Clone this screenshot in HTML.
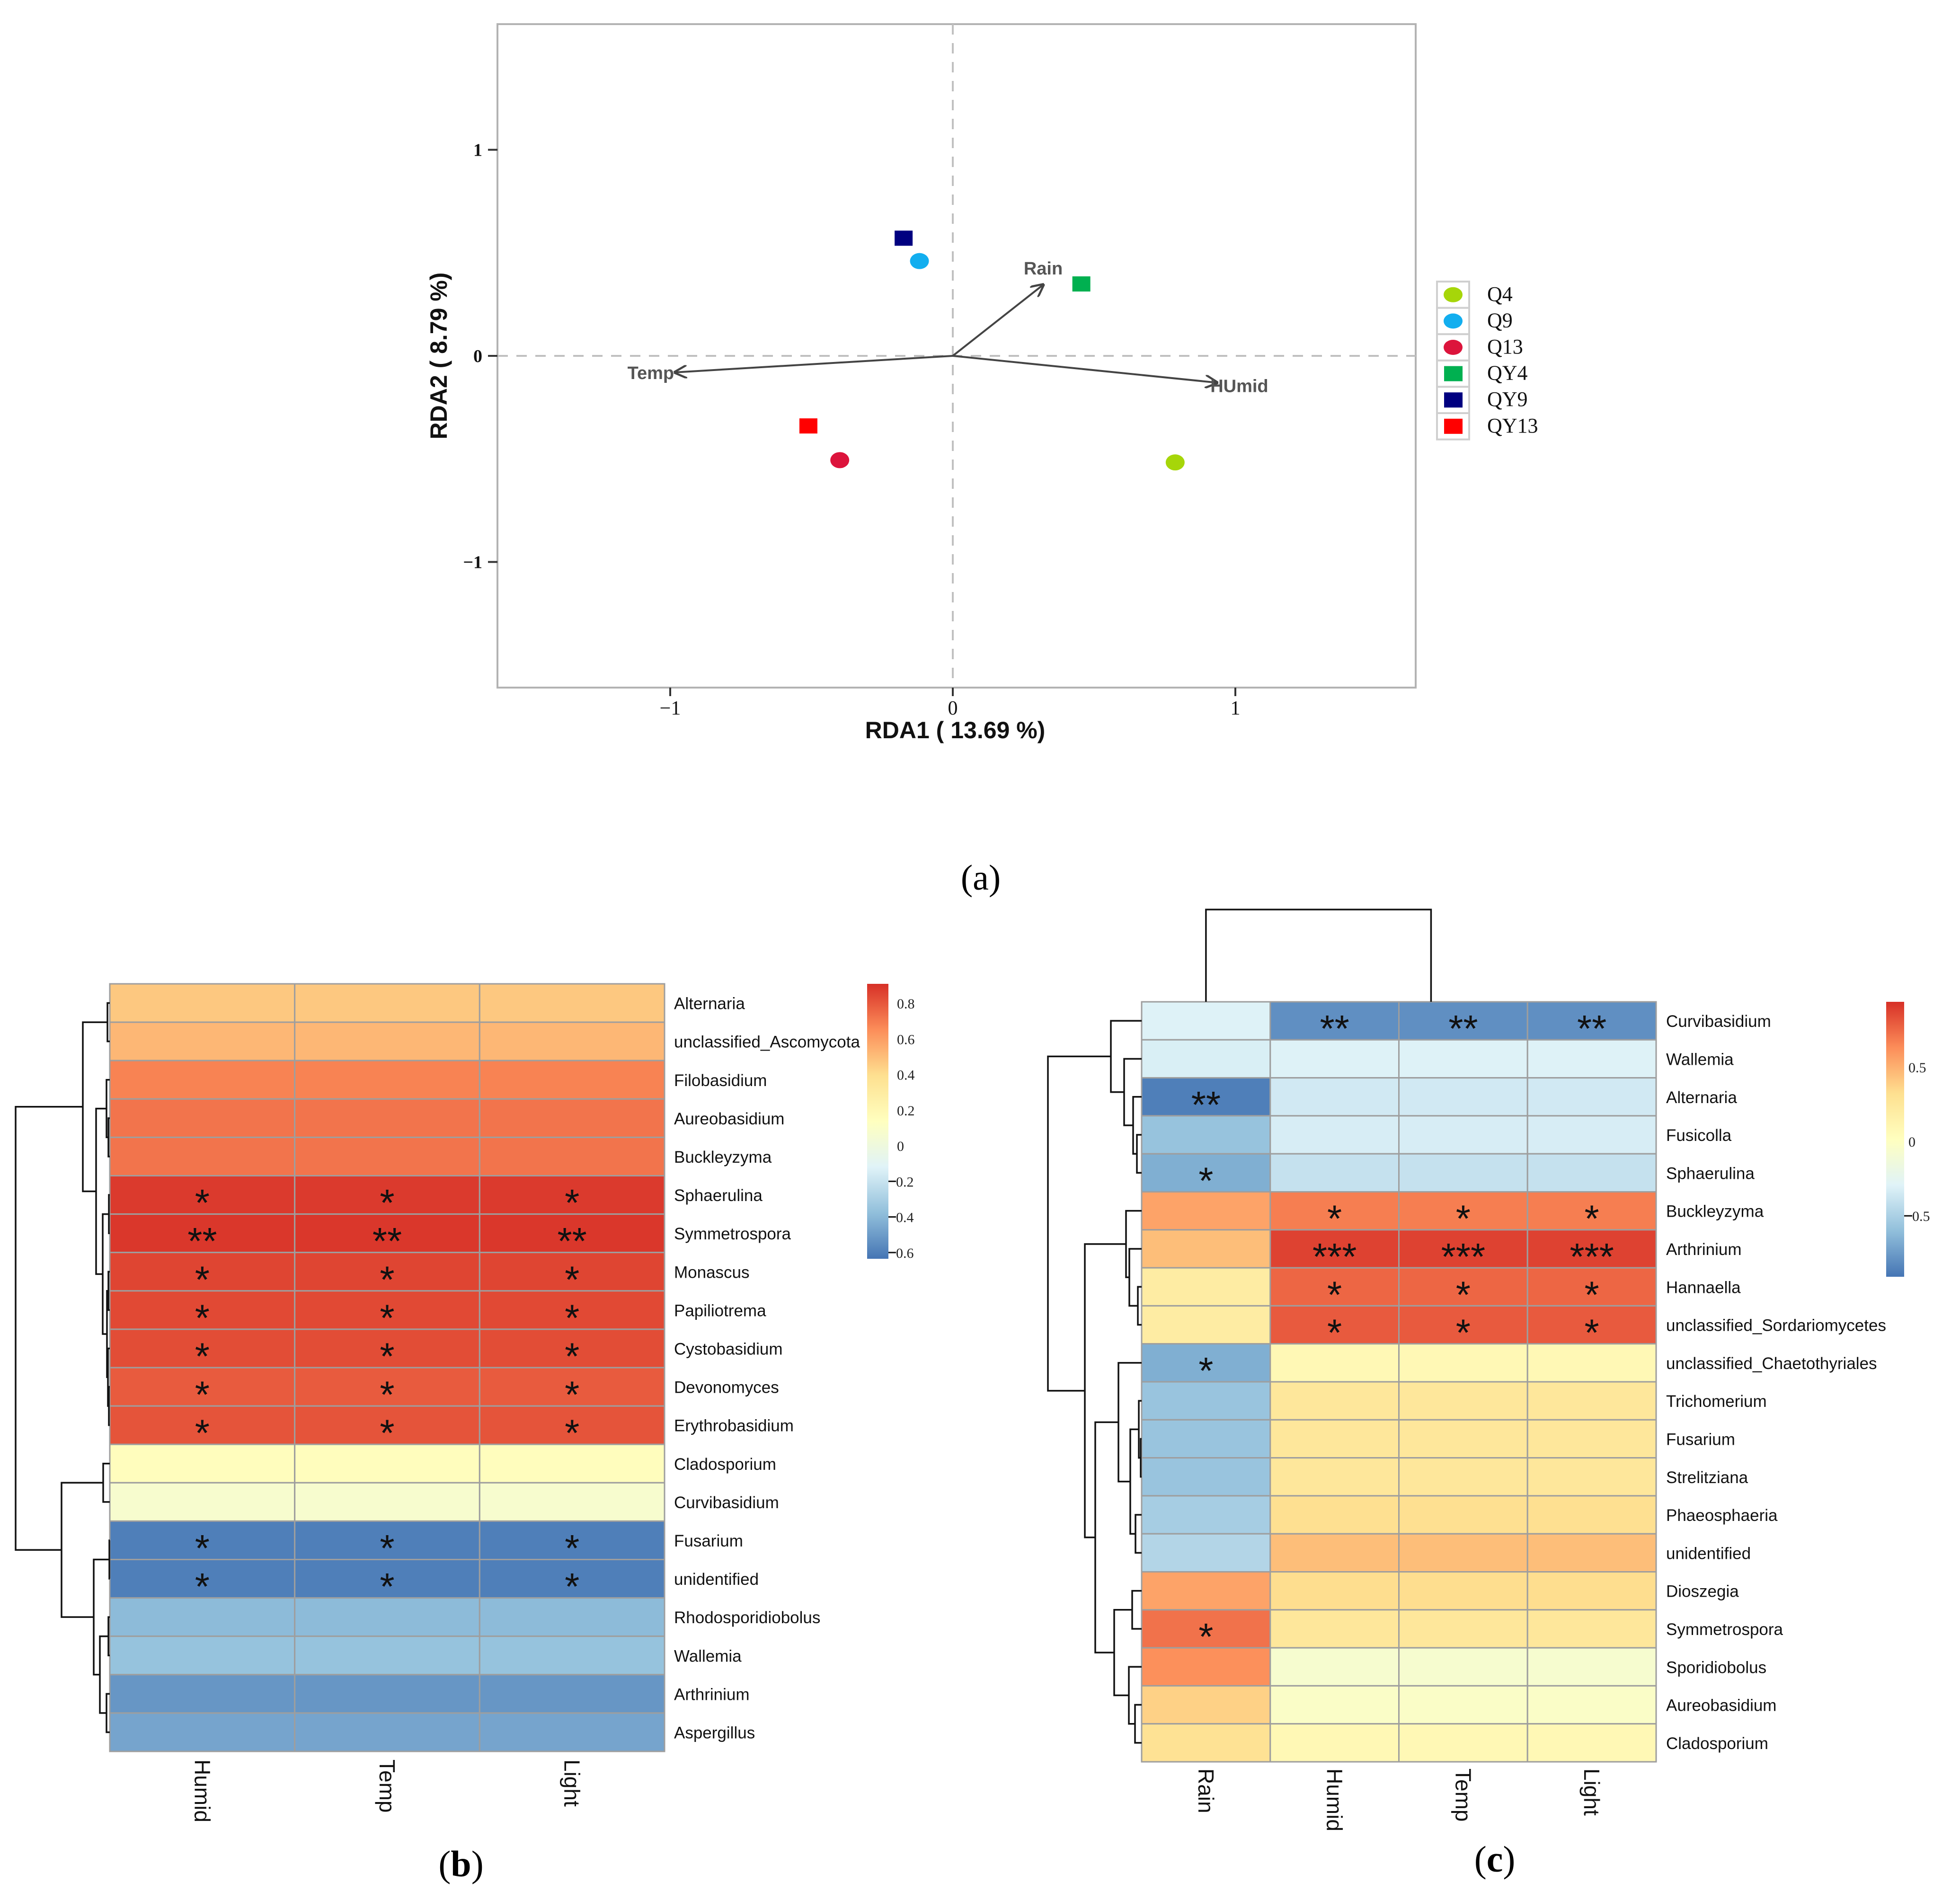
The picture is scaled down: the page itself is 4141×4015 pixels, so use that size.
<!DOCTYPE html>
<html><head><meta charset="utf-8"><title>RDA and correlation heatmaps</title>
<style>
html,body{margin:0;padding:0;background:#fff;}
svg{display:block;}
</style></head>
<body>
<svg id="fig" xmlns="http://www.w3.org/2000/svg" width="4141" height="4015" viewBox="0 0 4141 4015">
<rect width="4141" height="4015" fill="#fff"/>
<defs>
<linearGradient id="gradB" x1="0" y1="1" x2="0" y2="0">
<stop offset="0" stop-color="#4575B4"/><stop offset="0.1667" stop-color="#91BFDB"/><stop offset="0.3333" stop-color="#E0F3F8"/><stop offset="0.5" stop-color="#FFFFBF"/><stop offset="0.6667" stop-color="#FEE090"/><stop offset="0.8333" stop-color="#FC8D59"/><stop offset="1" stop-color="#D73027"/>
</linearGradient>
<marker id="arr" viewBox="0 0 10 10" refX="9" refY="5" markerWidth="7" markerHeight="7" orient="auto"><path d="M0,0 L10,5 L0,10" fill="none" stroke="#444" stroke-width="1.6"/></marker>
</defs>
<g id="panelA"></g>
<g id="panelB"></g>
<g id="panelC"></g>
</svg>
<script>
// ---------- Panel (a) data ----------
const sampleNames = ["Q4","Q9","Q13","QY4","QY9","QY13"];
const sampleX = [0.787,-0.118,-0.40,0.455,-0.174,-0.511];
const sampleY = [-0.517,0.46,-0.506,0.349,0.571,-0.34];
const sampleColors = ["#A6D609","#12AEEF","#DC143C","#00B050","#000080","#FF0000"];
const sampleShapes = ["circle","circle","circle","square","square","square"];
const envNames = ["Rain","Temp","HUmid"];
const envX = [0.32,-0.983,0.935];
const envY = [0.345,-0.08,-0.13];
const xTicks = [-1,0,1];
const yTicks = [-1,0,1];

// ---------- Panel (b) data ----------
const rowsB = ["Alternaria","unclassified_Ascomycota","Filobasidium","Aureobasidium","Buckleyzyma","Sphaerulina","Symmetrospora","Monascus","Papiliotrema","Cystobasidium","Devonomyces","Erythrobasidium","Cladosporium","Curvibasidium","Fusarium","unidentified","Rhodosporidiobolus","Wallemia","Arthrinium","Aspergillus"];
const colsB = ["Humid","Temp","Light"];
const valsB = [0.47,0.52,0.68,0.72,0.72,0.88,0.89,0.85,0.84,0.83,0.79,0.81,0.15,0.07,-0.6,-0.6,-0.39,-0.36,-0.52,-0.47];
const starsB = ["","","","","","*","**","*","*","*","*","*","","","*","*","","","",""];
const ticksB = [0.8,0.6,0.4,0.2,0,-0.2,-0.4,-0.6];
const tickLabelsB = ["0.8","0.6","0.4","0.2","0","\u22120.2","\u22120.4","\u22120.6"];

// ---------- Panel (c) data ----------
const rowsC = ["Curvibasidium","Wallemia","Alternaria","Fusicolla","Sphaerulina","Buckleyzyma","Arthrinium","Hannaella","unclassified_Sordariomycetes","unclassified_Chaetothyriales","Trichomerium","Fusarium","Strelitziana","Phaeosphaeria","unidentified","Dioszegia","Symmetrospora","Sporidiobolus","Aureobasidium","Cladosporium"];
const colsC = ["Rain","Humid","Temp","Light"];
const rainC = [-0.3,-0.32,-0.87,-0.58,-0.67,0.55,0.45,0.2,0.2,-0.67,-0.57,-0.57,-0.57,-0.52,-0.47,0.55,0.72,0.62,0.38,0.3];
const envC = [-0.8,-0.3,-0.35,-0.33,-0.4,0.68,0.88,0.76,0.8,0.08,0.25,0.25,0.25,0.32,0.45,0.33,0.25,-0.07,-0.03,0.08];
const rainStars = ["","","**","","*","","","","","*","","","","","","","*","","",""];
const envStars = ["**","","","","","*","***","*","*","","","","","","","","","","",""];
const ticksC = [0.5,0,-0.5];
const tickLabelsC = ["0.5","0","\u22120.5"];

const NS="http://www.w3.org/2000/svg";
function mk(parent,tag,attrs,text){const e=document.createElementNS(NS,tag);for(const k in attrs)e.setAttribute(k,attrs[k]);if(text!==undefined)e.textContent=text;parent.appendChild(e);return e;}
const pal=["#4575B4","#91BFDB","#E0F3F8","#FFFFBF","#FEE090","#FC8D59","#D73027"];
function hex(c){return [parseInt(c.slice(1,3),16),parseInt(c.slice(3,5),16),parseInt(c.slice(5,7),16)];}
function colorScale(v,lo,hi){let t=(v-lo)/(hi-lo);t=Math.max(0,Math.min(1,t));const p=t*6;const i=Math.min(5,Math.floor(p));const f=p-i;const a=hex(pal[i]),b=hex(pal[i+1]);return "rgb("+a.map((x,j)=>Math.round(x+(b[j]-x)*f)).join(",")+")";}

// ===== Panel A =====
(function(){
const g=document.getElementById("panelA");
const L=1051,R=2991,T=51,B=1453;
const sx=v=>2013+v*597, sy=v=>752-v*435.5;
const box=mk(g,"rect",{x:L,y:T,width:R-L,height:B-T,fill:"none",stroke:"#b3b3b3","stroke-width":4});


const vz=mk(g,"line",{x1:sx(0),y1:T,x2:sx(0),y2:B,stroke:"#c0c0c0","stroke-width":4,"stroke-dasharray":"22 18"});


const hz=mk(g,"line",{x1:L,y1:sy(0),x2:R,y2:sy(0),stroke:"#c0c0c0","stroke-width":4,"stroke-dasharray":"22 18"});


xTicks.forEach(v=>{
  const t=mk(g,"line",{x1:sx(v),y1:B,x2:sx(v),y2:B+18,stroke:"#333","stroke-width":4});
  
  
  const l=mk(g,"text",{x:sx(v),y:1510,"text-anchor":"middle","font-family":"Liberation Serif, serif","font-size":42,fill:"#111"},v<0?"\u2212"+Math.abs(v):String(v));
  
  
});
yTicks.forEach(v=>{
  const t=mk(g,"line",{x1:L-20,y1:sy(v),x2:L,y2:sy(v),stroke:"#333","stroke-width":4});
  
  
  const l=mk(g,"text",{x:L-32,y:sy(v)+13,"text-anchor":"end","font-family":"Liberation Serif, serif","font-weight":"bold","font-size":38,fill:"#111"},v<0?"\u2212"+Math.abs(v):String(v));
  
  
});
const xt=mk(g,"text",{x:2018,y:1560,"text-anchor":"middle","font-family":"Liberation Sans, sans-serif","font-weight":"bold","font-size":50,fill:"#111"},"RDA1 ( 13.69 %)");


const yt=mk(g,"text",{x:0,y:0,"text-anchor":"middle","font-family":"Liberation Sans, sans-serif","font-weight":"bold","font-size":50,fill:"#111",transform:"translate(944,752) rotate(-90)"},"RDA2 ( 8.79 %)");


envNames.forEach((n,i)=>{
  const a=mk(g,"line",{x1:sx(0),y1:sy(0),x2:sx(envX[i]),y2:sy(envY[i]),stroke:"#444","stroke-width":4,"marker-end":"url(#arr)"});
  
  
  let tx=sx(envX[i]),ty=sy(envY[i]),anc="middle";
  if(n==="Rain"){ty-=22;}
  if(n==="Temp"){tx-=2;ty+=14;anc="end";}
  if(n==="HUmid"){tx-=14;ty+=20;anc="start";}
  const l=mk(g,"text",{x:tx,y:ty,"text-anchor":anc,"font-family":"Liberation Sans, sans-serif","font-weight":"bold","font-size":38,fill:"#555"},n);
  
  
});
sampleNames.forEach((n,i)=>{
  let m;
  if(sampleShapes[i]==="circle") m=mk(g,"ellipse",{cx:sx(sampleX[i]),cy:sy(sampleY[i]),rx:20,ry:17,fill:sampleColors[i]});
  else m=mk(g,"rect",{x:sx(sampleX[i])-19,y:sy(sampleY[i])-16,width:38,height:32,fill:sampleColors[i]});
  
  
});
const lg=mk(g,"g",{});


const ly0=595,lh=55.6;
sampleNames.forEach((n,i)=>{
  const cy=ly0+lh*i+lh/2;
  const cell=mk(lg,"rect",{x:3036,y:ly0+lh*i,width:68,height:lh,fill:"#fff",stroke:"#cfcfcf","stroke-width":4});
  
  
  let m;
  if(sampleShapes[i]==="circle") m=mk(lg,"ellipse",{cx:3070,cy:cy,rx:20,ry:16,fill:sampleColors[i]});
  else m=mk(lg,"rect",{x:3051,y:cy-16,width:39,height:32,fill:sampleColors[i]});
  
  
  const t=mk(lg,"text",{x:3142,y:cy+13,"font-family":"Liberation Serif, serif","font-size":44,fill:"#111"},n);
  
  
});
const pa=mk(g,"text",{x:2072,y:1880,"text-anchor":"middle","font-family":"Liberation Serif, serif","font-size":76,fill:"#000"},"(a)");


})();

function drawTree(g,node,rowY,leafX,name){
  if(typeof node==="number") return {y:rowY(node),x:leafX};
  const a=drawTree(g,node.c[0],rowY,leafX,name), b=drawTree(g,node.c[1],rowY,leafX,name);
  const h=node.h;
  const p=mk(g,"path",{d:`M${a.x},${a.y}H${h}V${b.y}H${b.x}`,fill:"none",stroke:"#111","stroke-width":3.5});
  
  
  return {y:(a.y+b.y)/2,x:h};
}

// ===== Panel B =====
(function(){
const g=document.getElementById("panelB");
const L=232,R=1404,T=2079,B=3701;
const rh=(B-T)/rowsB.length, cw=(R-L)/colsB.length;
const lo=-0.635,hi=0.909;
rowsB.forEach((r,i)=>{
  colsB.forEach((c,j)=>{
    const cell=mk(g,"rect",{x:L+j*cw,y:T+i*rh,width:cw,height:rh,fill:colorScale(valsB[i],lo,hi),stroke:"#9e9e9e","stroke-width":3});
    
    
    if(starsB[i]){
      const s=mk(g,"text",{x:L+j*cw+cw/2,y:T+i*rh+rh/2+44,"text-anchor":"middle","font-family":"Liberation Sans, sans-serif","font-size":80,fill:"#111"},starsB[i]);
      
      
    }
  });
  const t=mk(g,"text",{x:1424,y:T+i*rh+rh/2+13,"font-family":"Liberation Sans, sans-serif","font-size":35,fill:"#111"},r);
  
  
});
colsB.forEach((c,j)=>{
  const x=L+j*cw+cw/2;
  const t=mk(g,"text",{x:0,y:0,"font-family":"Liberation Sans, sans-serif","font-size":46,fill:"#111",transform:`translate(${x-16},3718) rotate(90)`},c);
  
  
});
const tree={h:33,c:[
  {h:175,c:[{h:227,c:[0,1]},{h:203,c:[{h:225,c:[2,{h:229,c:[3,4]}]},{h:217,c:[{h:230,c:[5,6]},{h:226,c:[{h:229,c:[7,8]},{h:228,c:[9,{h:230,c:[10,11]}]}]}]}]}]},
  {h:130,c:[{h:218,c:[12,13]},{h:198,c:[{h:231,c:[14,15]},{h:211,c:[{h:229,c:[16,17]},{h:225,c:[18,19]}]}]}]}
]};
drawTree(g,tree,i=>T+i*rh+rh/2,L,'row-dendrogram-b');
const cb=mk(g,"rect",{x:1832,y:2079,width:45,height:581,fill:"url(#gradB)"});


const cy=v=>2079+(hi-v)/(hi-lo)*581;
ticksB.forEach((v,k)=>{
  if(v<0){const tk=mk(g,"line",{x1:1877,y1:cy(v),x2:1893,y2:cy(v),stroke:"#111","stroke-width":3});
  
  }
  const t=mk(g,"text",{x:v<0?1893:1895,y:cy(v)+11,"font-family":"Liberation Serif, serif","font-size":30,fill:"#222"},v<0?tickLabelsB[k].replace("\u2212",""):tickLabelsB[k]);
  
  
});
const pb=mk(g,"text",{x:974,y:3965,"text-anchor":"middle","font-family":"Liberation Serif, serif","font-size":78,fill:"#000"});


pb.innerHTML='(<tspan font-weight="bold">b</tspan>)';
})();

// ===== Panel C =====
(function(){
const g=document.getElementById("panelC");
const L=2412,R=3499,T=2117,B=3723;
const rh=(B-T)/rowsC.length, cw=(R-L)/colsC.length;
const lo=-0.91,hi=0.94;
rowsC.forEach((r,i)=>{
  colsC.forEach((c,j)=>{
    const v=j===0?rainC[i]:envC[i];
    const cell=mk(g,"rect",{x:L+j*cw,y:T+i*rh,width:cw,height:rh,fill:colorScale(v,lo,hi),stroke:"#9e9e9e","stroke-width":3});
    
    
    const st=j===0?rainStars[i]:envStars[i];
    if(st){
      const s=mk(g,"text",{x:L+j*cw+cw/2,y:T+i*rh+rh/2+44,"text-anchor":"middle","font-family":"Liberation Sans, sans-serif","font-size":80,fill:"#111"},st);
      
      
    }
  });
  const t=mk(g,"text",{x:3520,y:T+i*rh+rh/2+13,"font-family":"Liberation Sans, sans-serif","font-size":35,fill:"#111"},r);
  
  
});
colsC.forEach((c,j)=>{
  const x=L+j*cw+cw/2;
  const t=mk(g,"text",{x:0,y:0,"font-family":"Liberation Sans, sans-serif","font-size":46,fill:"#111",transform:`translate(${x-16},3737) rotate(90)`},c);
  
  
});
const tree={h:2214,c:[
  {h:2347,c:[0,{h:2375,c:[1,{h:2394,c:[2,{h:2402,c:[3,4]}]}]}]},
  {h:2292,c:[
    {h:2379,c:[5,{h:2386,c:[6,{h:2404,c:[7,8]}]}]},
    {h:2314,c:[
      {h:2363,c:[9,{h:2388,c:[{h:2406,c:[10,{h:2410,c:[11,12]}]},{h:2399,c:[13,14]}]}]},
      {h:2354,c:[{h:2392,c:[15,16]},{h:2385,c:[17,{h:2398,c:[18,19]}]}]}
    ]}
  ]}
]};
drawTree(g,tree,i=>T+i*rh+rh/2,L,'row-dendrogram-c');
const cx=j=>L+j*cw+cw/2;
const xa=cx(0), xb=(cx(1)+(cx(2)+cx(3))/2)/2;
const cd=mk(g,"path",{d:`M${xa},${T}V1922H${xb}V${T}`,fill:"none",stroke:"#111","stroke-width":3.5});


const cb=mk(g,"rect",{x:3985,y:2117,width:38,height:581,fill:"url(#gradB)"});


const cy=v=>2117+(hi-v)/(hi-lo)*581;
ticksC.forEach((v,k)=>{
  if(v<0){const tk=mk(g,"line",{x1:4023,y1:cy(v),x2:4040,y2:cy(v),stroke:"#111","stroke-width":3});
  
  }
  const t=mk(g,"text",{x:v<0?4040:4032,y:cy(v)+11,"font-family":"Liberation Serif, serif","font-size":30,fill:"#222"},v<0?tickLabelsC[k].replace("\u2212",""):tickLabelsC[k]);
  
  
});
const pc=mk(g,"text",{x:3158,y:3955,"text-anchor":"middle","font-family":"Liberation Serif, serif","font-size":78,fill:"#000"});


pc.innerHTML='(<tspan font-weight="bold">c</tspan>)';
})();
</script>
</body></html>
